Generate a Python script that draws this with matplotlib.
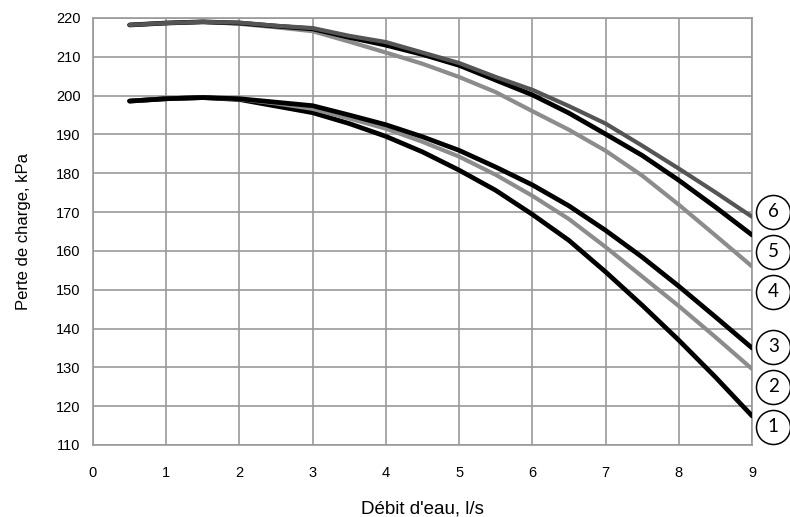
import matplotlib
matplotlib.use("Agg")
import matplotlib.pyplot as plt

plt.rcParams["font.family"] = ["Liberation Sans", "DejaVu Sans"]

# water flow, l/s
flow = [0.5, 1, 1.5, 2, 2.5, 3, 3.5, 4, 4.5, 5, 5.5, 6, 6.5, 7, 7.5, 8, 8.5, 9]

# pressure drop, kPa, one list per curve
curve1 = [198.6, 199.2, 199.5, 199.0, 197.3, 195.6, 192.8, 189.5, 185.5, 180.8,
          175.6, 169.4, 162.7, 154.6, 146.0, 137.0, 127.5, 117.5]
curve2 = [198.6, 199.2, 199.5, 199.1, 198.0, 196.6, 194.1, 191.5, 188.1, 184.3,
          179.6, 174.2, 168.2, 161.0, 153.4, 145.8, 137.8, 129.6]
curve3 = [198.6, 199.2, 199.5, 199.2, 198.3, 197.4, 195.0, 192.5, 189.4, 185.9,
          181.6, 177.0, 171.6, 165.3, 158.4, 150.9, 143.0, 135.0]
curve4 = [218.2, 218.7, 219.0, 218.5, 217.6, 216.6, 213.9, 211.1, 208.2, 204.8,
          200.9, 196.0, 191.2, 185.8, 179.4, 171.9, 164.0, 156.0]
curve5 = [218.2, 218.7, 219.0, 218.7, 217.9, 217.2, 215.0, 213.0, 210.6, 207.8,
          204.0, 200.2, 195.5, 190.1, 184.6, 178.2, 171.3, 164.1]
curve6 = [218.2, 218.7, 219.0, 218.8, 218.0, 217.4, 215.4, 213.8, 211.1, 208.4,
          204.8, 201.5, 197.3, 192.8, 187.1, 181.2, 175.1, 168.8]

labels = ["1", "2", "3", "4", "5", "6"]
label_y = [114.7, 125.0, 135.3, 149.5, 159.8, 170.1]
label_x = 9.29

fig = plt.figure(figsize=(7.9, 5.17), dpi=100)
ax = fig.add_axes([0.1177, 0.1393, 0.8342, 0.8259])

curves = [curve1, curve2, curve3, curve4, curve5, curve6]
colors = ["black", "#8c8c8c", "black", "#8c8c8c", "black", "#555555"]
widths = [3.4, 3.0, 3.4, 3.0, 3.4, 3.0]
for c, col, w in zip(curves, colors, widths):
    ax.plot(flow, c, color=col, lw=w, solid_capstyle="round",
            solid_joinstyle="round", zorder=3)

ax.set_xlim(0, 9)
ax.set_ylim(110, 220)
ax.set_xticks(range(0, 10))
ax.set_yticks(range(110, 221, 10))
ax.grid(True, color="#999999", lw=1.2)
ax.tick_params(length=0, labelsize=10.5)
ax.tick_params(axis="x", pad=15)
ax.tick_params(axis="y", pad=9)
for s in ax.spines.values():
    s.set_color("#999999")
    s.set_linewidth(1.2)

ax.set_xlabel("Débit d'eau, l/s", fontsize=13.5, labelpad=15)
ax.set_ylabel("Perte de charge, kPa", fontsize=12, labelpad=18)

# numbered circles at the right end of each curve
ax.plot([label_x] * len(label_y), label_y, "o", ms=24.5, mfc="white", mec="black",
        mew=1.1, clip_on=False, zorder=4)
for lab, y in zip(labels, label_y):
    ax.text(label_x, y, lab, fontsize=13.5, family=["Lato", "DejaVu Sans"],
            ha="center", va="center", clip_on=False, zorder=5)

fig.savefig("out.png", dpi=100)
